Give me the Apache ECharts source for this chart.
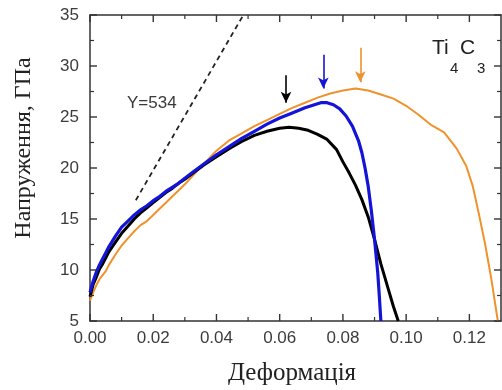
<!DOCTYPE html>
<html>
<head>
<meta charset="utf-8">
<script src="https://cdn.jsdelivr.net/npm/echarts@6/dist/echarts.min.js"></script>
<style>
  html, body { margin: 0; padding: 0; background: #fff; }
  #chart { width: 502px; height: 390px; }
</style>
</head>
<body>
<div id="chart"></div>
<script>
// Stress–strain curves for Ti4C3 (three loading directions)
const xTicks = [0.00, 0.02, 0.04, 0.06, 0.08, 0.10, 0.12];
const xMinorTicks = [0.01, 0.03, 0.05, 0.07, 0.09, 0.11];
const yTicks = [5, 10, 15, 20, 25, 30, 35];
const yMinorTicks = [7.5, 12.5, 17.5, 22.5, 27.5, 32.5];

const blackStrain = [0.000, 0.001, 0.002, 0.003, 0.004, 0.005, 0.006, 0.008, 0.010, 0.012, 0.014, 0.016, 0.018, 0.020, 0.022, 0.024, 0.026, 0.028, 0.030, 0.033, 0.036, 0.040, 0.044, 0.048, 0.052, 0.056, 0.060, 0.063, 0.066, 0.069, 0.072, 0.075, 0.078, 0.080, 0.082, 0.084, 0.086, 0.088, 0.090, 0.092, 0.094, 0.096, 0.0975];
const blackStress = [7.4, 8.6, 9.3, 10.1, 10.6, 11.2, 11.8, 12.7, 13.6, 14.3, 15.0, 15.6, 16.1, 16.6, 17.1, 17.6, 18.0, 18.5, 18.9, 19.6, 20.3, 21.1, 21.9, 22.6, 23.2, 23.6, 23.9, 24.0, 23.9, 23.7, 23.3, 22.8, 21.8, 20.6, 19.5, 18.3, 16.9, 15.2, 13.0, 10.6, 8.5, 6.4, 5.0];

const blueStrain = [0.000, 0.001, 0.002, 0.003, 0.004, 0.005, 0.006, 0.008, 0.010, 0.012, 0.014, 0.016, 0.018, 0.020, 0.022, 0.024, 0.026, 0.028, 0.030, 0.033, 0.036, 0.040, 0.044, 0.048, 0.052, 0.056, 0.060, 0.064, 0.068, 0.071, 0.073, 0.075, 0.077, 0.079, 0.081, 0.083, 0.085, 0.086, 0.087, 0.088, 0.089, 0.090, 0.091, 0.0915, 0.092];
const blueStress = [7.8, 8.9, 9.8, 10.5, 11.1, 11.7, 12.3, 13.3, 14.2, 14.8, 15.4, 15.9, 16.3, 16.8, 17.2, 17.7, 18.1, 18.5, 19.0, 19.7, 20.4, 21.3, 22.1, 22.9, 23.6, 24.3, 24.9, 25.4, 25.9, 26.2, 26.4, 26.4, 26.2, 25.8, 25.1, 24.1, 22.6, 21.5, 20.0, 18.2, 15.8, 13.0, 9.8, 7.5, 5.0];

const orangeStrain = [0.000, 0.001, 0.002, 0.003, 0.004, 0.005, 0.006, 0.008, 0.010, 0.012, 0.014, 0.016, 0.018, 0.020, 0.022, 0.024, 0.026, 0.028, 0.030, 0.033, 0.036, 0.040, 0.044, 0.048, 0.052, 0.056, 0.060, 0.064, 0.068, 0.072, 0.076, 0.080, 0.084, 0.088, 0.092, 0.096, 0.100, 0.104, 0.108, 0.112, 0.116, 0.119, 0.121, 0.123, 0.125, 0.127, 0.128, 0.129];
const orangeStress = [7.0, 7.8, 8.5, 9.1, 9.5, 9.9, 10.5, 11.5, 12.4, 13.1, 13.8, 14.4, 14.8, 15.4, 16.0, 16.6, 17.2, 17.8, 18.4, 19.4, 20.4, 21.7, 22.7, 23.4, 24.1, 24.7, 25.3, 25.9, 26.4, 26.9, 27.3, 27.6, 27.8, 27.6, 27.2, 26.8, 26.1, 25.2, 24.2, 23.5, 21.9, 20.2, 18.3, 15.5, 12.5, 9.0, 7.0, 5.0];

// Elastic modulus line, Y = 534 GPa
const modulus = 534;
const modulusOffset = 9.1;
const modulusStrain = [0.0145, 0.0485];

// Peak-marker arrows: [strain, stress from, stress to]
const blackArrow = [0.062, 29.1, 26.4];
const blueArrow = [0.0738, 31.1, 27.8];
const orangeArrow = [0.0855, 31.8, 28.4];

const pairs = (xs, ys) => xs.map((x, i) => [x, ys[i]]);

function arrow(a, color) {
  return {
    silent: true,
    symbol: ['none', 'arrow'],
    symbolSize: [8, 11],
    label: { show: false },
    lineStyle: { color: color, width: 1.6, type: 'solid' },
    emphasis: { disabled: true },
    animation: false,
    data: [[{ coord: [a[0], a[1]] }, { coord: [a[0], a[2]] }]]
  };
}

const axisColor = '#333';
const labelFont = { fontFamily: 'Liberation Sans', fontSize: 17, color: '#3c3c3c' };
const majorLen = 7;
const minorLen = 4;

const xRange = { min: 0, max: 0.13, interval: 0.02 };
const yRange = { min: 5, max: 35, interval: 5 };

function edgeAxis(range, position, label) {
  return Object.assign({
    type: 'value', position: position,
    axisLine: { show: true, onZero: false, lineStyle: { color: axisColor, width: 1.5 } },
    axisTick: { show: false },
    minorTick: { show: false },
    splitLine: { show: false },
    axisLabel: label || { show: false }
  }, range);
}

// Inward tick marks on all four sides of the box, placed through the axis scales
function tickLine(x1, y1, x2, y2, w) {
  return { type: 'line', shape: { x1, y1, x2, y2 }, style: { stroke: axisColor, lineWidth: w } };
}
const xTickData = xTicks.map(v => [v, yRange.min, majorLen]).concat(xMinorTicks.map(v => [v, yRange.min, minorLen]));
const yTickData = yTicks.map(v => [xRange.min, v, majorLen]).concat(yMinorTicks.map(v => [xRange.min, v, minorLen]));

const chart = echarts.init(document.getElementById('chart'));

const option = {
  animation: false,
  grid: { left: 90, right: 1, top: 15, bottom: 69, containLabel: false, outerBoundsMode: 'none' },
  xAxis: [
    edgeAxis(xRange, 'bottom', Object.assign({
      show: true, margin: 9, showMaxLabel: false,
      formatter: v => xTicks.some(t => Math.abs(t - v) < 1e-9) ? v.toFixed(2) : ''
    }, labelFont)),
    edgeAxis(xRange, 'top')
  ],
  yAxis: [
    edgeAxis(yRange, 'left', Object.assign({
      show: true, margin: 11,
      formatter: v => yTicks.includes(v) ? String(v) : ''
    }, labelFont)),
    edgeAxis(yRange, 'right')
  ],
  series: [
    {
      name: 'xTickMarks', type: 'custom', silent: true, clip: false, z: 5,
      encode: { x: 0, y: 1 },
      data: xTickData,
      renderItem: (params, api) => {
        const v = api.value(0), len = api.value(2), w = len === majorLen ? 1.4 : 1.2;
        const b = api.coord([v, yRange.min]);
        const t = api.coord([v, yRange.max]);
        return { type: 'group', children: [
          tickLine(b[0], b[1], b[0], b[1] - len, w),
          tickLine(t[0], t[1], t[0], t[1] + len, w)
        ] };
      }
    },
    {
      name: 'yTickMarks', type: 'custom', silent: true, clip: false, z: 5,
      encode: { x: 0, y: 1 },
      data: yTickData,
      renderItem: (params, api) => {
        const v = api.value(1), len = api.value(2), w = len === majorLen ? 1.4 : 1.2;
        const l = api.coord([xRange.min, v]);
        const r = api.coord([xRange.max, v]);
        return { type: 'group', children: [
          tickLine(l[0], l[1], l[0] + len, l[1], w),
          tickLine(r[0], r[1], r[0] - len, r[1], w)
        ] };
      }
    },
    {
      name: 'modulus', type: 'line', showSymbol: false, silent: true,
      data: modulusStrain.map(x => [x, modulusOffset + modulus * x]),
      lineStyle: { color: '#222', width: 1.8, type: [5, 4] }
    },
    {
      name: 'orange', type: 'line', showSymbol: false, silent: true,
      data: pairs(orangeStrain, orangeStress),
      lineStyle: { color: '#f0922c', width: 2 },
      markLine: arrow(orangeArrow, '#f0922c')
    },
    {
      name: 'black', type: 'line', showSymbol: false, silent: true,
      data: pairs(blackStrain, blackStress),
      lineStyle: { color: '#000', width: 3 },
      markLine: arrow(blackArrow, '#000')
    },
    {
      name: 'blue', type: 'line', showSymbol: false, silent: true,
      data: pairs(blueStrain, blueStress),
      lineStyle: { color: '#1414d8', width: 3.2 },
      markLine: arrow(blueArrow, '#1414d8')
    }
  ],
  graphic: [
    {
      type: 'text', x: 24, y: 148, rotation: Math.PI / 2,
      style: { text: 'Напруження, ГПа', fontFamily: 'Liberation Serif', fontSize: 24, fill: '#222', align: 'center', verticalAlign: 'middle' }
    },
    {
      type: 'text', x: 292, y: 373,
      style: { text: 'Деформація', fontFamily: 'Liberation Serif', fontSize: 25, fill: '#222', align: 'center', verticalAlign: 'middle' }
    },
    {
      type: 'text', x: 127, y: 95,
      style: { text: 'Y=534', fontFamily: 'Liberation Sans', fontSize: 17, fill: '#3a3a3a', align: 'left', verticalAlign: 'top' }
    },
    { type: 'text', x: 432, y: 38, style: { text: 'Ti', fontFamily: 'Liberation Sans', fontSize: 21, fill: '#222', verticalAlign: 'top' } },
    { type: 'text', x: 450, y: 61, style: { text: '4', fontFamily: 'Liberation Sans', fontSize: 15, fill: '#222', verticalAlign: 'top' } },
    { type: 'text', x: 460, y: 38, style: { text: 'C', fontFamily: 'Liberation Sans', fontSize: 21, fill: '#222', verticalAlign: 'top' } },
    { type: 'text', x: 477, y: 61, style: { text: '3', fontFamily: 'Liberation Sans', fontSize: 15, fill: '#222', verticalAlign: 'top' } }
  ]
};

chart.setOption(option);
</script>
</body>
</html>
